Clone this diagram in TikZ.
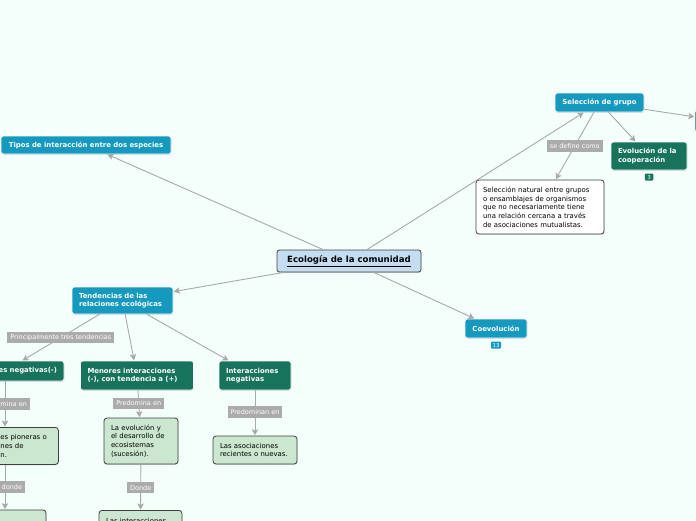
\documentclass[tikz,border=0pt]{standalone}
\usepackage{fontspec}
\setmainfont{DejaVu Sans}
\usepackage{xcolor}
\usetikzlibrary{arrows.meta}
\usetikzlibrary{shadows}
\usetikzlibrary{calc}

\definecolor{bgmint}{HTML}{F4FFFB}
\definecolor{mapblue}{HTML}{1699BF}
\definecolor{mapgreen}{HTML}{17735B}
\definecolor{leafgreen}{HTML}{CBE7CF}
\definecolor{rootblue}{HTML}{C4DDF1}
\definecolor{linkgray}{HTML}{A8A8A8}
\definecolor{taggray}{HTML}{ABABAB}

\begin{document}
\begin{tikzpicture}[x=1pt,y=-1pt,
  topic/.style={rectangle,rounded corners=2.5pt,fill=mapblue,draw=white,line width=0.6pt,
    text=white,font=\fontsize{6.9}{8.6}\selectfont\bfseries,inner sep=0pt,
    drop shadow={shadow xshift=0.4pt,shadow yshift=-0.9pt,opacity=0.3}},
  subtopic/.style={topic,fill=mapgreen},
  leaf/.style={rectangle,rounded corners=3pt,fill=leafgreen,draw=black!75,line width=0.8pt,
    text=black,font=\fontsize{6.9}{8.7}\selectfont,inner sep=0pt,
    drop shadow={shadow xshift=0.4pt,shadow yshift=-0.9pt,opacity=0.3}},
  tag/.style={rectangle,fill=taggray,text=white,font=\fontsize{6.5}{7}\selectfont,
    inner xsep=3pt,inner ysep=0pt,minimum height=11.5pt},
  badge/.style={rectangle,rounded corners=1pt,text=white,font=\fontsize{5.5}{5.5}\selectfont,
    inner xsep=1.5pt,inner ysep=0pt,minimum height=7pt,minimum width=8.5pt},
  link/.style={draw=linkgray,line width=0.9pt,-{Stealth[length=6pt,width=6.5pt,inset=1.5pt]},
    shorten >=0.5pt}
]

  % page and background
  \path[use as bounding box,fill=bgmint] (0,0) rectangle (696,520);

  % central topic
  \node[leaf,fill=rootblue,rounded corners=2.5pt,minimum width=144pt,minimum height=22pt,
    font=\fontsize{8.6}{9}\selectfont\bfseries] (Eco) at (349,261)
    {\underline{Ecología de la comunidad}};

  % main topics
  \node[topic,minimum width=170pt,minimum height=18pt] (Tipos) at (86,145)
    {Tipos de interacción entre dos especies};
  \node[topic,minimum width=89pt,minimum height=19pt] (Sel) at (599.5,102.5)
    {Selección de grupo};
  \node[topic,minimum height=27pt,text width=87pt,inner xsep=7pt,align=left] (Tend) at (122.5,300.5)
    {Tendencias de las\\relaciones ecológicas};
  \node[topic,minimum width=62pt,minimum height=19pt] (Coe) at (496,328.5)
    {Coevolución};
  \node[badge,fill=mapblue] (CoeN) at (496,345) {13};

  % under Selección de grupo
  \node[subtopic,minimum width=54pt,minimum height=22pt] (Right) at (722,121) {};
  \node[subtopic,minimum height=28pt,text width=62pt,inner xsep=7pt,align=left] (Evo) at (649,156)
    {Evolución de la\\cooperación};
  \node[badge,fill=mapgreen] (EvoN) at (649,177) {3};
  \node[leaf,fill=white,minimum height=54pt,text width=114pt,inner xsep=7pt,align=left] (Def) at (540,207)
    {Selección natural entre grupos\\o ensamblajes de organismos\\que no necesariamente tiene\\una relación cercana a través\\de asociaciones mutualistas.};

  % three tendencies
  \node[subtopic,minimum height=20pt,text width=104pt,inner xsep=7pt,align=right] (Neg) at (5,371)
    {es negativas(-)};
  \node[subtopic,minimum height=29pt,text width=99pt,inner xsep=7pt,align=left] (Men) at (137,375.5)
    {Menores interacciones\\(-), con tendencia a (+)};
  \node[subtopic,minimum height=29pt,text width=58pt,inner xsep=7pt,align=left] (IntN) at (255,375.5)
    {Interacciones\\negativas};

  % details
  \node[leaf,anchor=north west,minimum height=37pt,text width=52pt,inner xsep=6pt,align=left] (Pion) at (-6,427)
    {es pioneras o\\nes de\\n.};
  \node[leaf,minimum height=46pt,text width=60pt,inner xsep=7pt,align=left] (Evl) at (141,441)
    {La evolución y\\el desarrollo de\\ecosistemas\\(sucesión).};
  \node[leaf,minimum height=28pt,text width=70pt,inner xsep=7pt,align=left] (Asoc) at (255,450)
    {Las asociaciones\\recientes o nuevas.};
  \node[leaf,minimum width=56pt,minimum height=30pt] (BotL) at (18,525) {};
  \node[leaf,anchor=north,text width=69pt,inner xsep=7pt,inner ysep=7.5pt,
    align=left] (BotM) at (140.5,510) {Las interacciones};

  % connectors from the centre
  \draw[link] (Eco) -- (Tipos);
  \draw[link] (Eco) -- (Sel);
  \draw[link] (Eco) -- (Tend);
  \draw[link] (Eco) -- (Coe);

  % connectors from Selección de grupo
  \draw[link] (Sel) -- (Right);
  \draw[link] (Sel) -- (Evo);
  \draw[link] (Sel) -- (Def) node[tag,pos=0.5] {se define como};

  % connectors from Tendencias
  \draw[link] (Tend) -- (Neg) node[tag,pos=0.5] {Principalmente tres tendencias};
  \draw[link] (Tend) -- (Men);
  \draw[link] (Tend) -- (IntN);

  % connectors down to the details
  \draw[link] (Neg.south) -- (Neg.south |- Pion.north)
    node[tag,pos=0.5,text width=44pt,align=right] {mina en};
  \draw[link] (Neg.south |- Pion.south) -- (Neg.south |- BotL.north)
    node[tag,pos=0.5,text width=34pt,align=right] {donde};
  \draw[link] (Men) -- (Evl) node[tag,pos=0.48] {Predomina en};
  \draw[link] (IntN) -- (Asoc) node[tag,pos=0.48] {Predominan en};
  \draw[link] (Evl) -- (BotM) node[tag,pos=0.51] {Donde};

\end{tikzpicture}
\end{document}
